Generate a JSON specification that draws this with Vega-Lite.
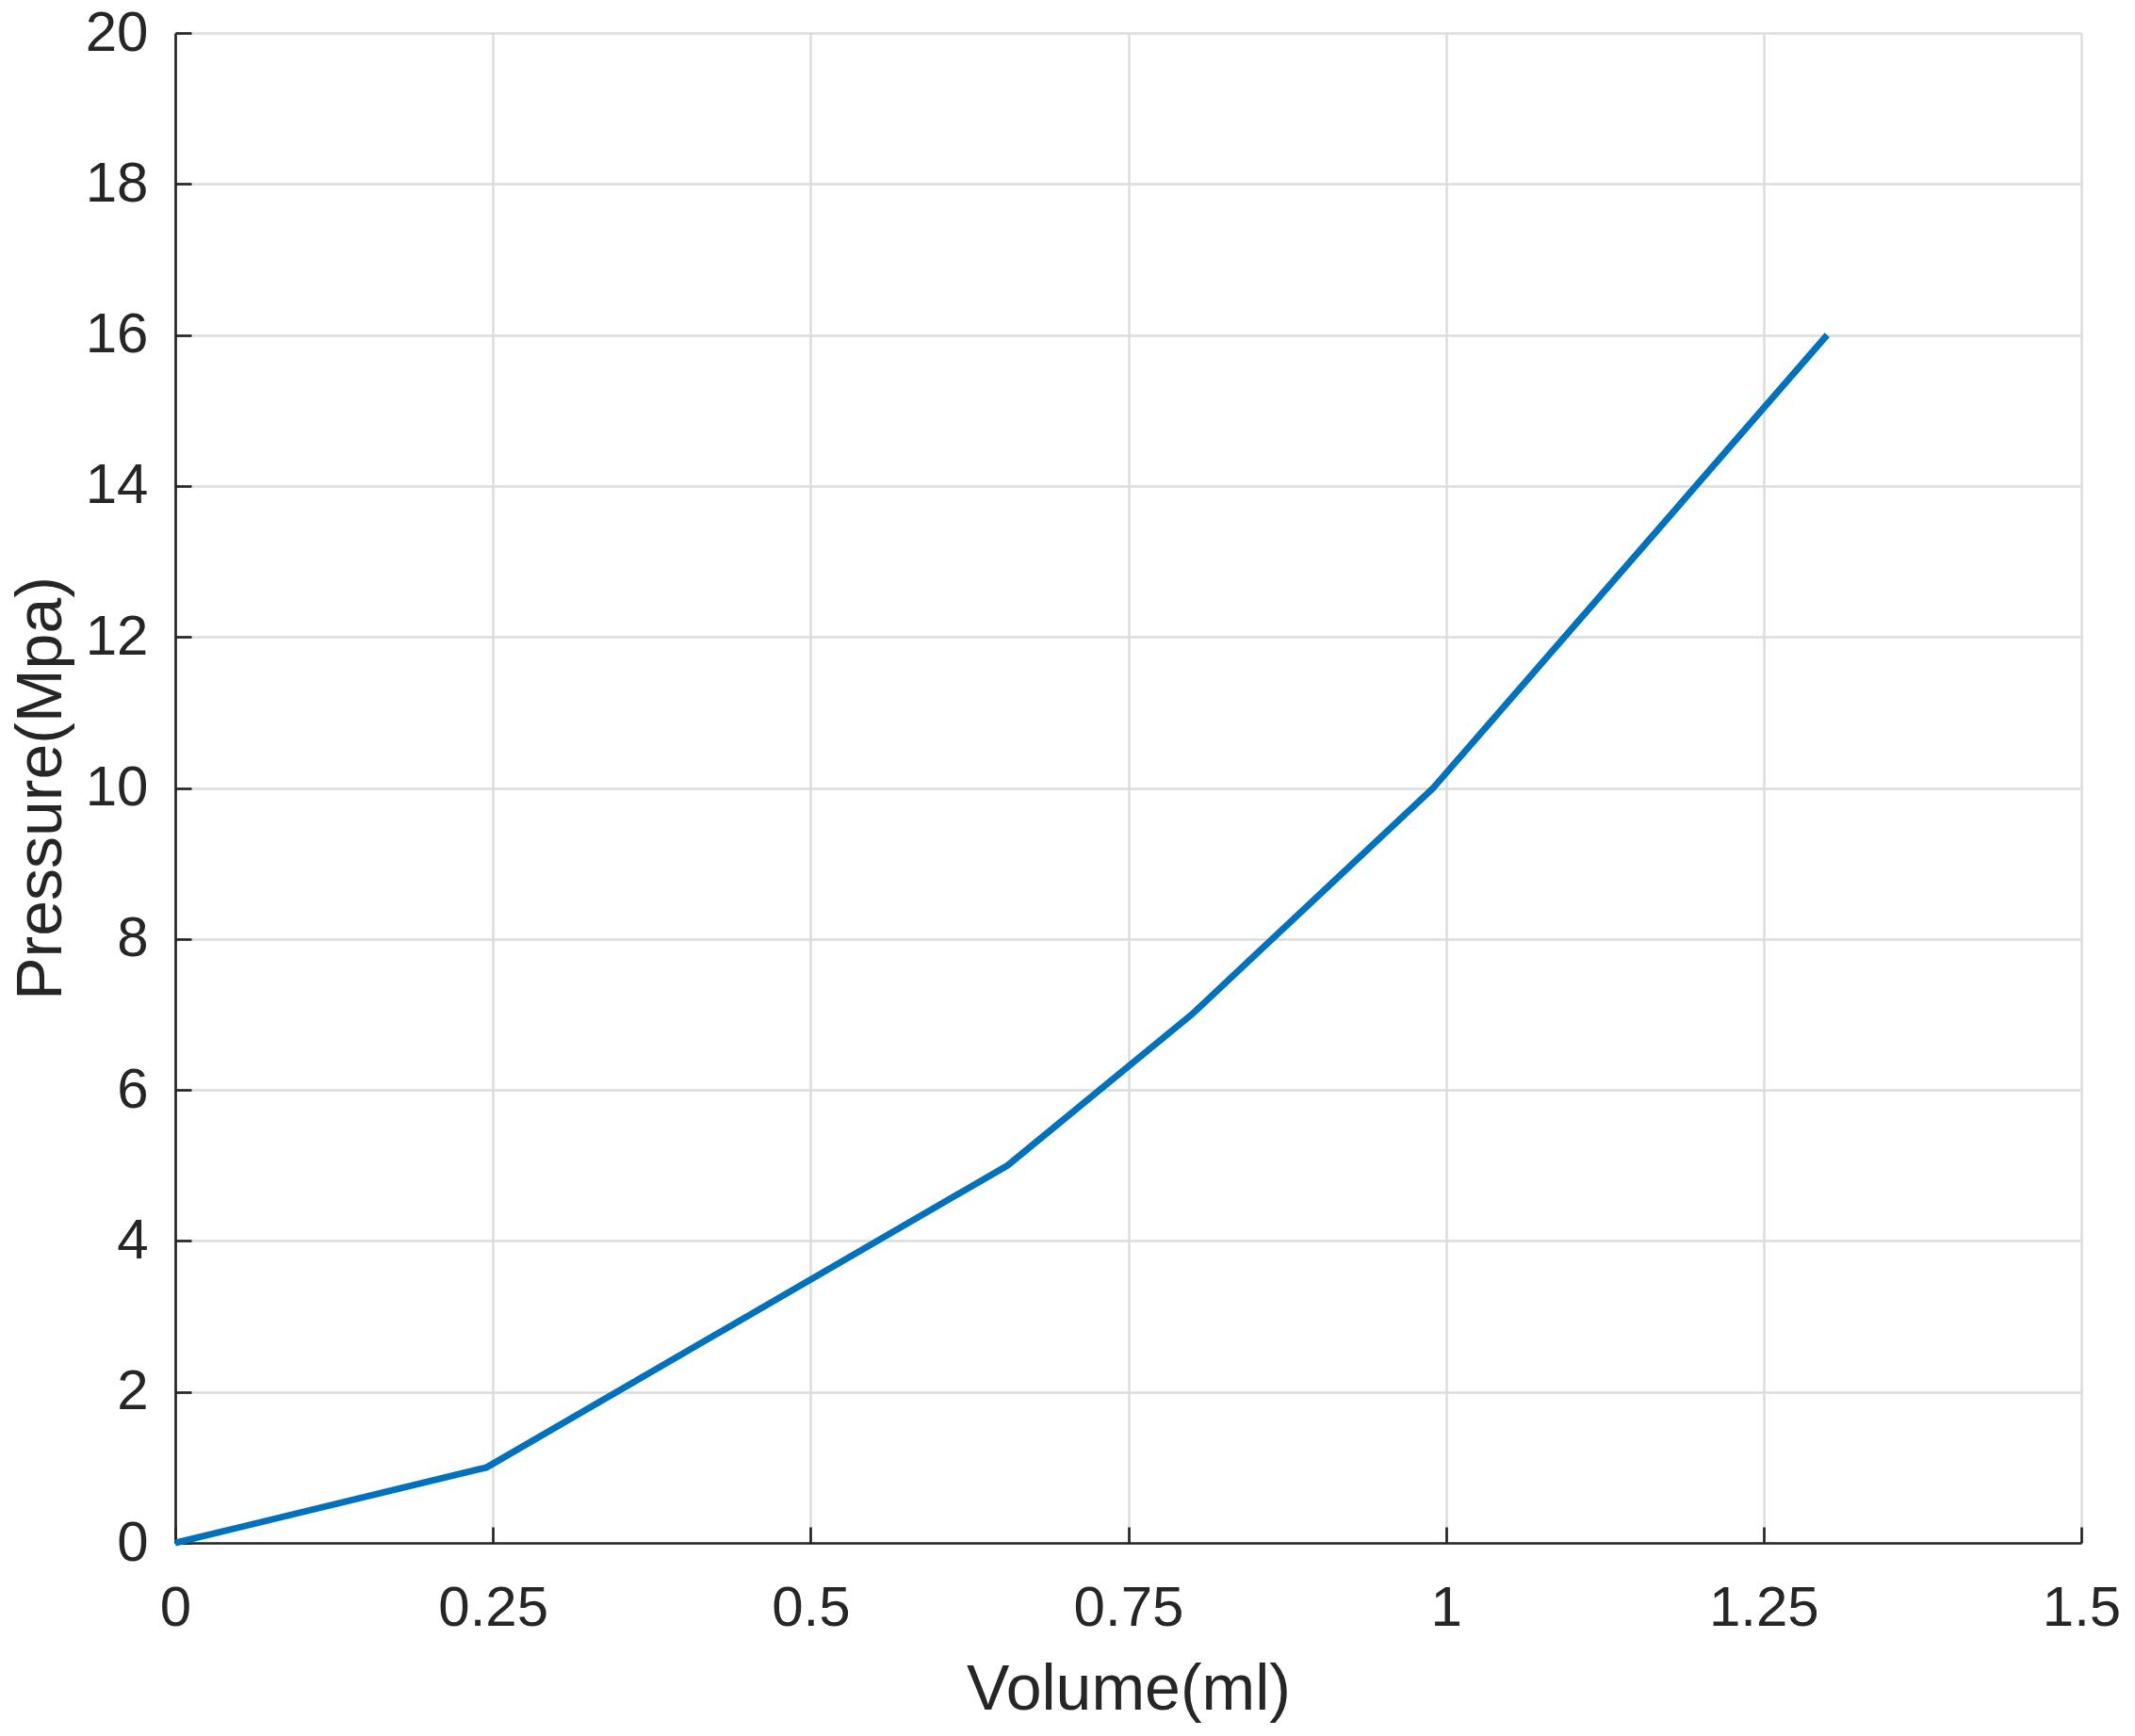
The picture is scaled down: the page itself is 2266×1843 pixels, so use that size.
{
  "$schema": "https://vega.github.io/schema/vega-lite/v6.json",
  "width": 2023,
  "height": 1603,
  "autosize": {"type": "none"},
  "padding": {"left": 186, "top": 35, "right": 57, "bottom": 205},
  "background": "white",
  "config": {
    "view": {"stroke": null},
    "font": "Liberation Sans",
    "axis": {
      "domainColor": "#262626",
      "domainWidth": 2.7,
      "tickColor": "#262626",
      "tickWidth": 2.7,
      "gridColor": "#dcdcdc",
      "gridWidth": 2.5,
      "labelColor": "#262626",
      "labelFont": "Liberation Sans",
      "labelFontSize": 60,
      "titleColor": "#262626",
      "titleFont": "Liberation Sans",
      "titleFontSize": 68,
      "titleFontWeight": "normal",
      "labelFlush": false,
      "labelOverlap": false
    }
  },
  "data": {
    "values": [
      {"volume": 0, "pressure": 0},
      {"volume": 0.245, "pressure": 1},
      {"volume": 0.655, "pressure": 5},
      {"volume": 0.8, "pressure": 7},
      {"volume": 0.99, "pressure": 10},
      {"volume": 1.3, "pressure": 16}
    ]
  },
  "resolve": {"axis": {"x": "independent", "y": "independent"}},
  "layer": [
    {
      "mark": {"type": "line", "color": "#0072BD", "strokeWidth": 7, "clip": false},
      "encoding": {
        "x": {
          "field": "volume",
          "type": "quantitative",
          "title": "Volume(ml)",
          "scale": {"domain": [0, 1.5], "nice": false, "zero": false},
          "axis": {"orient": "bottom", "values": [0, 0.25, 0.5, 0.75, 1, 1.25, 1.5], "labelExpr": "datum.value + ''", "ticks": false, "labelPadding": 40, "titlePadding": 23}
        },
        "y": {
          "field": "pressure",
          "type": "quantitative",
          "title": "Pressure(Mpa)",
          "scale": {"domain": [0, 20], "nice": false},
          "axis": {"orient": "left", "values": [0, 2, 4, 6, 8, 10, 12, 14, 16, 18, 20], "ticks": false, "labelPadding": 29, "titlePadding": 12}
        }
      }
    },
    {
      "mark": {"type": "point", "opacity": 0},
      "encoding": {
        "x": {
          "field": "volume",
          "type": "quantitative",
          "axis": {"orient": "top", "offset": -1603, "values": [0, 0.25, 0.5, 0.75, 1, 1.25, 1.5], "domain": false, "labels": false, "grid": false, "title": null, "ticks": true, "tickSize": 17}
        },
        "y": {
          "field": "pressure",
          "type": "quantitative",
          "axis": {"orient": "right", "offset": -2023, "values": [0, 2, 4, 6, 8, 10, 12, 14, 16, 18, 20], "domain": false, "labels": false, "grid": false, "title": null, "ticks": true, "tickSize": 17}
        }
      }
    }
  ]
}
